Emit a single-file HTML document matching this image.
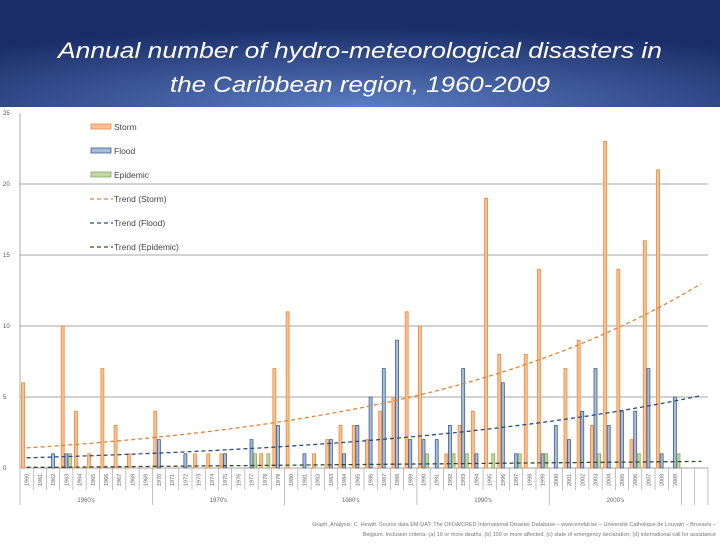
<!DOCTYPE html>
<html><head><meta charset="utf-8"><style>
body{margin:0;width:720px;height:540px;overflow:hidden;background:#fff;font-family:"Liberation Sans",sans-serif}
</style></head><body>
<svg id="chart" width="720" height="540" viewBox="0 0 720 540">
<defs>
<radialGradient id="bg" cx="0.5" cy="1" r="0.75" fx="0.5" fy="1">
<stop offset="0" stop-color="#5b7dc2"/><stop offset="1" stop-color="#1a2d68"/>
</radialGradient>
</defs>
<rect x="0" y="0" width="720" height="107" fill="url(#bg)"/>
<text x="360" y="58" text-anchor="middle" fill="#fff" font-size="22" font-style="italic" textLength="604" lengthAdjust="spacingAndGlyphs">Annual number of hydro-meteorological disasters in</text>
<text x="360" y="92" text-anchor="middle" fill="#fff" font-size="22" font-style="italic" textLength="380" lengthAdjust="spacingAndGlyphs">the Caribbean region, 1960-2009</text>
<g id="plot"></g>
<text x="716" y="526" text-anchor="end" font-size="5.5" fill="#777">Graph, Analysis: C. Hewitt. Source data EM-DAT: The OFDA/CRED International Disaster Database – www.emdat.be – Université Catholique de Louvain – Brussels –</text>
<text x="716" y="536" text-anchor="end" font-size="5.5" fill="#777">Belgium. Inclusion criteria: (a) 10 or more deaths, (b) 100 or more affected, (c) state of emergency declaration, (d) international call for assistance</text>
</svg>
<script>
const years = [];
for (let y = 1960; y <= 2009; y++) years.push(y);
const storm =    [6,0,0,10,4,1,7,3,1,0, 4,0,0,1,1,1,0,0,1,7, 11,0,1,2,3,3,2,4,5,11, 10,0,1,3,4,19,8,0,8,14, 0,7,9,3,23,14,2,16,21,0];
const flood =    [0,0,1,1,0,0,0,0,0,0, 2,0,1,0,0,1,0,2,0,3, 0,1,0,2,1,3,5,7,9,2, 2,2,3,7,1,0,6,1,0,1, 3,2,4,7,3,4,4,7,1,5];
const epidemic = [0,0,0,1,0,0,0,0,0,0, 0,0,0,0,0,0,0,1,1,0, 0,0,0,0,0,0,0,0,0,0, 1,0,1,1,0,1,0,1,0,1, 0,0,0,1,0,0,1,0,0,1];
const yTicks = [0,5,10,15,20,25];
const decades = ["1960's","1970's","1980's","1990's","2000's"];

const NS = "http://www.w3.org/2000/svg";
const g = document.getElementById('plot');
const X0 = 20, SLOT = 13.23, NSLOT = 52, Y0 = 468, YTOP = 113, YMAX = 25;
const xs = i => X0 + i * SLOT;
const ys = v => Y0 - v / YMAX * (Y0 - YTOP);
function mk(tag, attrs){const e=document.createElementNS(NS,tag);for(const k in attrs)e.setAttribute(k,attrs[k]);g.appendChild(e);return e;}

yTicks.forEach(t=>{
  if(t>0&&t<25){const l=mk('line',{x1:X0,x2:X0+SLOT*NSLOT,y1:ys(t),y2:ys(t),stroke:'#888','stroke-width':0.7});
  
  }
  const tx=mk('text',{x:3,y:ys(t)+2,'font-size':6,fill:'#555'});tx.textContent=t;
  
  
});
mk('line',{x1:X0,x2:X0,y1:YTOP,y2:Y0,stroke:'#888','stroke-width':0.7});
mk('line',{x1:X0,x2:X0+SLOT*NSLOT,y1:Y0,y2:Y0,stroke:'#888','stroke-width':0.7});

for(let i=0;i<=NSLOT;i++){
  const grp = (i%10===0 && i<=50) || i>=50;
  mk('line',{x1:xs(i),x2:xs(i),y1:Y0,y2:grp?505:490,stroke:'#999','stroke-width':0.6});
}
years.forEach((yr,i)=>{
  const cx=xs(i)+SLOT/2;
  const t=mk('text',{x:cx+2,y:486,'font-size':5.5,fill:'#666',transform:`rotate(-90 ${cx+2} 486)`});
  t.textContent=yr;
  
  
});
decades.forEach((d,i)=>{
  const t=mk('text',{x:xs(i*10+5),y:502,'font-size':6,fill:'#666','text-anchor':'middle'});
  t.textContent=d;
  
  
});

const series=[{d:storm,f:'#f8c195',s:'#e88a3a',n:'storm'},{d:flood,f:'#a9bcd9',s:'#3f5f93',n:'flood'},{d:epidemic,f:'#c4d6a4',s:'#8aa860',n:'epidemic'}];
series.forEach((s,k)=>{
  s.d.forEach((v,i)=>{
    if(v<=0)return;
    const r=mk('rect',{x:xs(i)+1.5+k*3.6,y:ys(v),width:3,height:Y0-ys(v),fill:s.f,stroke:s.s,'stroke-width':0.8});
    
    
  });
});

// exponential least-squares fit y = a*exp(b*t)
function expFit(arr){
  let best=null;
  for(let b=0;b<=0.2;b+=0.0005){
    let num=0,den=0;
    arr.forEach((v,i)=>{const e=Math.exp(b*i);num+=v*e;den+=e*e;});
    const a=num/den;let err=0;
    arr.forEach((v,i)=>{const d=v-a*Math.exp(b*i);err+=d*d;});
    if(!best||err<best.err)best={a,b,err};
  }
  return t=>best.a*Math.exp(best.b*t);
}
function linFit(arr){
  const n=arr.length;let sx=0,sy=0,sxy=0,sxx=0;
  arr.forEach((v,i)=>{sx+=i;sy+=v;sxy+=i*v;sxx+=i*i;});
  const b=(n*sxy-sx*sy)/(n*sxx-sx*sx),a=(sy-b*sx)/n;
  return t=>a+b*t;
}
const trends=[{f:expFit(storm),c:'#e0853a',n:'trend-storm'},{f:expFit(flood),c:'#2d4d7e',n:'trend-flood'},{f:linFit(epidemic),c:'#3a4a2a',n:'trend-epidemic'}];
trends.forEach(t=>{
  let p='';
  for(let i=0;i<=51;i+=0.5){const v=Math.max(0.05,t.f(i));p+=(p?'L':'M')+(xs(i)+SLOT/2).toFixed(1)+','+ys(v).toFixed(1);}
  const e=mk('path',{d:p,fill:'none',stroke:t.c,'stroke-width':1.3,'stroke-dasharray':'4,3'});
  
  
});

const leg=[['Storm','bar','#f8c195','#e88a3a'],['Flood','bar','#a9bcd9','#3f5f93'],['Epidemic','bar','#c4d6a4','#8aa860'],
['Trend (Storm)','line','#e0853a'],['Trend (Flood)','line','#2d4d7e'],['Trend (Epidemic)','line','#3a4a2a']];
leg.forEach((l,i)=>{
  const y=127+i*24;
  if(l[1]==='bar'){const r=mk('rect',{x:91,y:y-3,width:20,height:5,fill:l[2],stroke:l[3],'stroke-width':0.8});
    
    }
  else{const r=mk('line',{x1:90,x2:113,y1:y,y2:y,stroke:l[2],'stroke-width':1.2,'stroke-dasharray':'4,3'});
    
    }
  const t=mk('text',{x:114,y:y+3,'font-size':8.5,fill:'#444'});t.textContent=l[0];
  
  
});
</script>
</body></html>
